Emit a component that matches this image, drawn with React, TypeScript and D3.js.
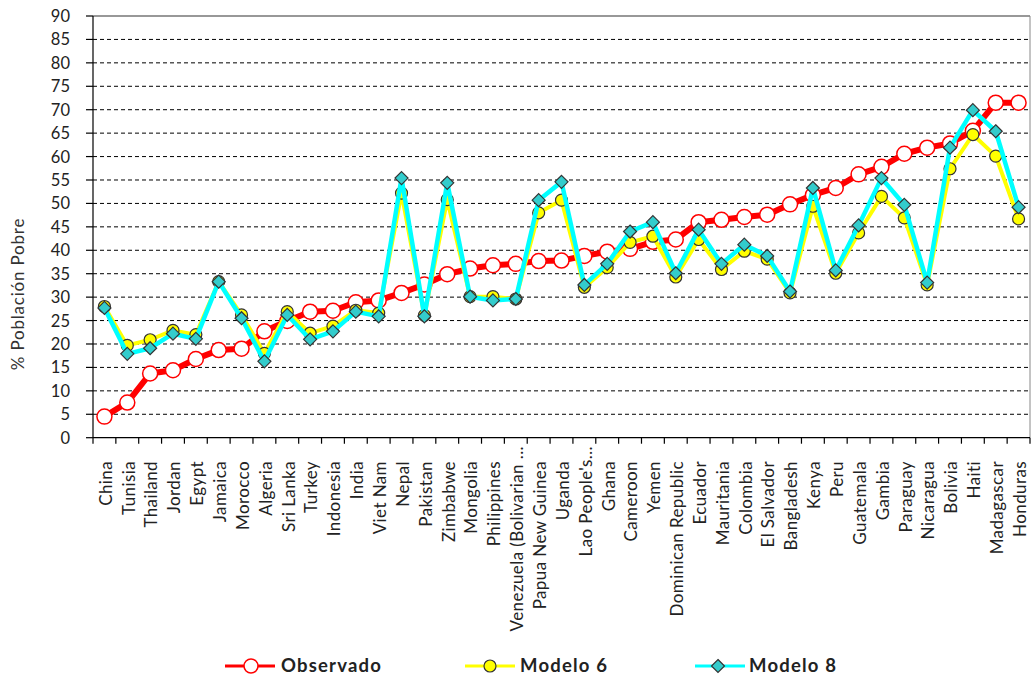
import React from "react";
import * as d3 from "d3";

const categories: string[] = [
  "China", "Tunisia", "Thailand", "Jordan", "Egypt", "Jamaica", "Morocco", "Algeria",
  "Sri Lanka", "Turkey", "Indonesia", "India", "Viet Nam", "Nepal", "Pakistan", "Zimbabwe",
  "Mongolia", "Philippines", "Venezuela (Bolivarian ...", "Papua New Guinea", "Uganda",
  "Lao People's…", "Ghana", "Cameroon", "Yemen", "Dominican Republic", "Ecuador",
  "Mauritania", "Colombia", "El Salvador", "Bangladesh", "Kenya", "Peru", "Guatemala",
  "Gambia", "Paraguay", "Nicaragua", "Bolivia", "Haiti", "Madagascar", "Honduras",
];

const observado: number[] = [
  4.5, 7.5, 13.7, 14.4, 16.8, 18.7, 19.0, 22.7, 24.9, 26.9, 27.1, 28.9, 29.3, 30.9, 32.7,
  34.9, 36.1, 36.8, 37.1, 37.7, 37.8, 38.8, 39.7, 40.3, 41.8, 42.3, 46.0, 46.5, 47.1, 47.6,
  49.8, 51.8, 53.3, 56.2, 57.8, 60.6, 61.9, 62.8, 65.5, 71.5, 71.5,
];

const modelo6: number[] = [
  28.0, 19.7, 20.9, 22.9, 22.0, 33.3, 26.2, 18.0, 26.9, 22.3, 23.8, 27.2, 26.6, 52.2, 26.1,
  50.8, 30.1, 30.1, 29.6, 48.0, 50.7, 32.1, 36.3, 41.7, 43.0, 34.3, 42.3, 35.9, 39.8, 38.1,
  30.9, 49.4, 35.1, 43.7, 51.5, 46.9, 32.6, 57.4, 64.7, 60.1, 46.7,
];

const modelo8: number[] = [
  27.7, 17.9, 19.1, 22.2, 21.1, 33.3, 25.5, 16.3, 26.2, 21.0, 22.7, 26.9, 25.9, 55.4, 25.9,
  54.4, 30.1, 29.3, 29.6, 50.7, 54.6, 32.6, 37.1, 44.0, 46.0, 35.1, 44.4, 37.1, 41.2, 38.8,
  31.2, 53.3, 35.7, 45.3, 55.4, 49.7, 33.1, 61.9, 69.9, 65.4, 49.2,
];

const yTicks: number[] = d3.range(0, 95, 5);
const yTitle = "% Población Pobre";
const legendNames: string[] = ["Observado", "Modelo 6", "Modelo 8"];

const W = 1031;
const H = 679;
const L = 93;
const R = 1030;
const T = 16;
const B = 437.7;
const FONT = "Lato, 'Open Sans', sans-serif";

export default function App() {
  const x = d3.scaleBand<string>().domain(categories).range([L, R]).padding(0);
  const y = d3.scaleLinear().domain([0, 90]).range([B, T]);
  const cx = (i: number) => (x(categories[i]) as number) + x.bandwidth() / 2;
  const line = d3
    .line<number>()
    .x((_, i) => cx(i))
    .y((d) => y(d));

  const diamond = (px: number, py: number, r: number) =>
    `M${px},${py - r}L${px + r},${py}L${px},${py + r}L${px - r},${py}Z`;

  return (
    <svg
      width={W}
      height={H}
      style={{ position: "absolute", left: 0, top: 0, background: "#fff" }}
      fontFamily={FONT}
    >
      {/* gridlines */}
      {yTicks.map((t) =>
        t === 0 || t === 90 ? null : (
          <line
            key={"g" + t}
            x1={L}
            x2={R}
            y1={y(t)}
            y2={y(t)}
            stroke="#000"
            strokeWidth={1}
            strokeDasharray="4,3"
          />
        )
      )}
      {/* border top/right */}
      <line x1={L} x2={R} y1={T} y2={T} stroke="#333" strokeWidth={1.2} />
      <line x1={R} x2={R} y1={T} y2={B} stroke="#888" strokeWidth={1} />
      {/* y axis */}
      <line x1={L} x2={L} y1={T} y2={B} stroke="#000" strokeWidth={1.2} />
      {yTicks.map((t) => (
        <g key={"yt" + t}>
          <line x1={L - 7} x2={L} y1={y(t)} y2={y(t)} stroke="#000" strokeWidth={1.2} />
          <text
            x={70}
            y={y(t)}
            dy="0.36em"
            textAnchor="end"
            fontSize={16.5}
            fill="#222"
          >
            {t}
          </text>
        </g>
      ))}
      {/* x axis */}
      <line x1={L} x2={R} y1={B} y2={B} stroke="#000" strokeWidth={1.2} />
      {categories.map((c, i) => (
        <line
          key={"xt" + i}
          x1={x(c) as number}
          x2={x(c) as number}
          y1={B}
          y2={B + 6}
          stroke="#000"
          strokeWidth={1.2}
        />
      ))}
      <line x1={R} x2={R} y1={B} y2={B + 6} stroke="#000" strokeWidth={1.2} />
      {categories.map((c, i) => {
        const px = cx(i) + 3;
        const py = /…|\.\.\.$/.test(c) ? 446 : 461;
        return (
          <text
            key={"xl" + i}
            transform={`translate(${px},${py}) rotate(-90)`}
            textAnchor="end"
            dominantBaseline="middle"
            fontSize={17}
            letterSpacing={0.4}
            fill="#222"
          >
            {c}
          </text>
        );
      })}
      {/* y title */}
      <text
        transform={`translate(20,294) rotate(-90)`}
        textAnchor="middle"
        dominantBaseline="middle"
        fontSize={17}
        fill="#333"
        letterSpacing={0.8}
      >
        {yTitle}
      </text>

      {/* Observado */}
      <path d={line(observado) || ""} fill="none" stroke="#ff0000" strokeWidth={6} strokeLinejoin="round" />
      {observado.map((v, i) => (
        <circle key={"o" + i} cx={cx(i)} cy={y(v)} r={7.5} fill="#fff" stroke="#ff0000" strokeWidth={1.5} />
      ))}
      {/* Modelo 6 */}
      <path d={line(modelo6) || ""} fill="none" stroke="#ffff00" strokeWidth={4} strokeLinejoin="round" />
      {modelo6.map((v, i) => (
        <circle key={"m6" + i} cx={cx(i)} cy={y(v)} r={6} fill="#ffff00" stroke="#333" strokeWidth={1.2} />
      ))}
      {/* Modelo 8 */}
      <path d={line(modelo8) || ""} fill="none" stroke="#00ffff" strokeWidth={4.5} strokeLinejoin="round" />
      {modelo8.map((v, i) => (
        <path key={"m8" + i} d={diamond(cx(i), y(v), 6.5)} fill="#33cccc" stroke="#333" strokeWidth={1.2} />
      ))}

      {/* legend */}
      <g>
        <line x1={225} x2={275} y1={666} y2={666} stroke="#ff0000" strokeWidth={3} />
        <circle cx={251} cy={666} r={7} fill="#fff" stroke="#ff0000" strokeWidth={1.5} />
        <text x={281} y={666} dy="0.35em" fontSize={18.5} fontWeight="bold" letterSpacing={1.2} fill="#222">
          {legendNames[0]}
        </text>
        <line x1={465} x2={515} y1={666} y2={666} stroke="#ffff00" strokeWidth={3} />
        <circle cx={490} cy={666} r={6} fill="#ffff00" stroke="#333" strokeWidth={1.2} />
        <text x={520} y={666} dy="0.35em" fontSize={18.5} fontWeight="bold" letterSpacing={1.2} fill="#222">
          {legendNames[1]}
        </text>
        <line x1={695} x2={745} y1={666} y2={666} stroke="#00ffff" strokeWidth={3} />
        <path d={diamond(718, 666, 6.5)} fill="#33cccc" stroke="#333" strokeWidth={1.2} />
        <text x={749} y={666} dy="0.35em" fontSize={18.5} fontWeight="bold" letterSpacing={1.2} fill="#222">
          {legendNames[2]}
        </text>
      </g>
    </svg>
  );
}
